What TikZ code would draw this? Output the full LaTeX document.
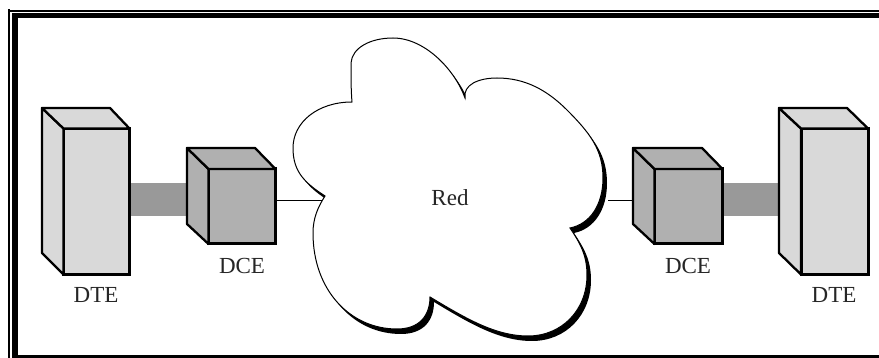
\documentclass[tikz,border=0pt]{standalone}
\usepackage{fontspec}
\setmainfont{Liberation Serif}
\usetikzlibrary{calc,positioning}
\tikzset{
  front/.style={draw,line width=3pt,inner sep=0pt,outer sep=0pt,anchor=north west},
  side/.style={draw,line width=2.3pt,line join=round},
  dtecol/.style={fill=black!15},
  dcecol/.style={fill=black!31},
  bar/.style={line width=33pt,draw=black!40},
  link/.style={line width=1pt},
  tag/.style={font=\fontsize{23}{25}\selectfont,inner sep=0pt,text=black!85},
}
\newcommand{\cloudline}{(325,196) .. controls (305,183) and (293,172) .. (293,148)
  .. controls (293,122) and (318,102) .. (352,102)
  .. controls (351,90) and (351,78) .. (351,63)
  .. controls (352,48) and (370,38) .. (393,38)
  .. controls (425,38) and (455,70) .. (465,98)
  .. controls (463,85) and (478,78) .. (497,78)
  .. controls (525,78) and (547,90) .. (567,110)
  .. controls (590,133) and (603,150) .. (603,178)
  .. controls (603,205) and (590,224) .. (570,228)
  .. controls (580,243) and (587,255) .. (587,275)
  .. controls (587,310) and (562,336) .. (528,336)
  .. controls (495,336) and (465,318) .. (430,297)
  .. controls (430,315) and (420,329) .. (397,329)
  .. controls (350,329) and (313,290) .. (313,233)
  .. controls (313,218) and (318,207) .. (325,196) -- cycle}

\begin{document}
\begin{tikzpicture}[x=1pt,y=-1pt]
  \useasboundingbox (0,0) rectangle (879,358);
  % frame
  \fill (8,9) rectangle (10,358);
  \fill (10,10) rectangle (879,12);
  \fill (12,13) rectangle (879,18);
  \fill (12,13) rectangle (18,358);
  \fill (12,355) rectangle (879,358);
  % bars
  \coordinate [] (barA) at (129,199.5);
  \coordinate [] (barB) at (188,199.5);
  \coordinate [] (barC) at (722,199.5);
  \coordinate [] (barD) at (780,199.5);
  \draw [bar] (barA) -- (barB);
  \draw [bar] (barC) -- (barD);
  % cloud
  \fill [shift={(4,5)}] \cloudline;
  \draw [fill=white,line width=1pt] \cloudline;
  \node [tag] (red) at (450,198) {Red};
  % left side
  \node [front,dtecol,minimum width=66pt,minimum height=146pt] (dteL) at (63.5,128.5) {};
  \draw [side,dtecol] (dteL.north west) -- (42,108) -- (42,253) -- (dteL.south west) -- cycle;
  \draw [side,dtecol] (dteL.north west) -- (42,108) -- (110,108) -- (dteL.north east) -- cycle;
  \node [front,dcecol,minimum width=67pt,minimum height=75pt] (dceL) at (208.5,169) {};
  \draw [side,dcecol] (dceL.north west) -- (187,148) -- (187,224) -- (dceL.south west) -- cycle;
  \draw [side,dcecol] (dceL.north west) -- (187,148) -- (255,148) -- (dceL.north east) -- cycle;
  \node [tag] (dteLtag) at (96,295) {DTE};
  \node [tag] (dceLtag) at (242,266) {DCE};
  % right side
  \node [front,dtecol,minimum width=67pt,minimum height=146pt] (dteR) at (801,128.5) {};
  \draw [side,dtecol] (dteR.north west) -- (779,108) -- (779,253) -- (dteR.south west) -- cycle;
  \draw [side,dtecol] (dteR.north west) -- (779,108) -- (847,108) -- (dteR.north east) -- cycle;
  \node [front,dcecol,minimum width=68pt,minimum height=75pt] (dceR) at (654.5,169) {};
  \draw [side,dcecol] (dceR.north west) -- (633,148) -- (633,224) -- (dceR.south west) -- cycle;
  \draw [side,dcecol] (dceR.north west) -- (633,148) -- (702,148) -- (dceR.north east) -- cycle;
  \node [tag] (dteRtag) at (834,295) {DTE};
  \node [tag] (dceRtag) at (688,266) {DCE};
  % links to the cloud
  \coordinate [] (cloudW) at (322,200.5);
  \coordinate [] (cloudE) at (608,200.5);
  \coordinate [] (dceRin) at (633,200.5);
  \draw [link] (dceL.east |- cloudW) -- (cloudW);
  \draw [link] (cloudE) -- (dceRin);
\end{tikzpicture}
\end{document}
